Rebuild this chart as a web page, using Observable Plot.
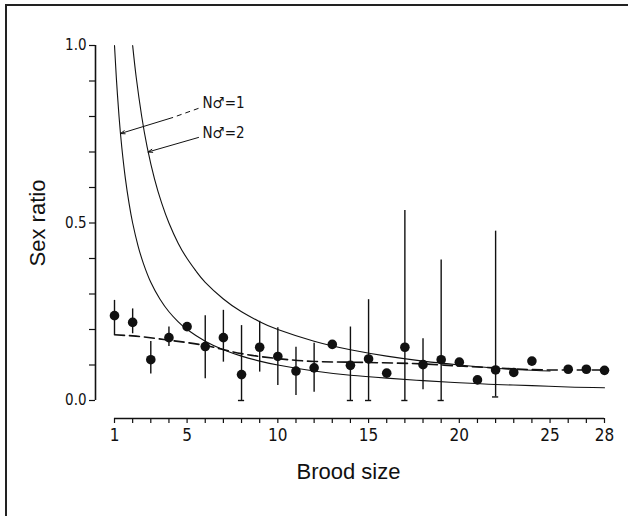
<!DOCTYPE html>
<html>
<head>
<meta charset="utf-8">
<script src="https://cdn.jsdelivr.net/npm/d3@7"></script>
<script src="https://cdn.jsdelivr.net/npm/@observablehq/plot@0.6"></script>
<style>
  html, body { margin: 0; padding: 0; background: #fff; }
  #wrap { position: relative; width: 628px; height: 516px; overflow: hidden; }
  #frame { position: absolute; left: 5px; top: 4px; width: 630px; height: 510px;
           border-left: 2px solid #222; border-top: 2px solid #222; border-bottom: 1px solid #aaa;
           pointer-events: none; }
</style>
</head>
<body>
<div id="wrap"><div id="frame"></div></div>
<script>
// ---- data ----
const broodSize = [1,2,3,4,5,6,7,8,9,10,11,12,13,14,15,16,17,18,19,20,21,22,23,24,26,27,28];
const sexRatio  = [0.239,0.22,0.115,0.177,0.208,0.152,0.177,0.073,0.15,0.124,0.083,0.092,0.158,0.099,0.117,0.077,0.15,0.101,0.115,0.108,0.058,0.086,0.079,0.111,0.088,0.088,0.085];
const errLow    = [0.185,0.188,0.075,0.152,null,0.061,0.108,0,0.08,0.042,0.014,0.023,null,0,0,null,0,0.03,0,null,null,0.01,null,null,null,null,null];
const errHigh   = [0.282,0.258,0.166,0.207,null,0.239,0.254,0.211,0.223,0.205,0.15,0.161,null,0.207,0.284,null,0.535,0.174,0.396,null,null,0.477,null,null,null,null,null];
const capped    = [8,14,15,17,19,22];

const n1X = [1,1.1,1.25,1.4,1.6,1.8,2,2.3,2.6,3,3.5,4,4.5,5,6,7,8,9,10,12,14,16,18,20,22,24,26,28];
const n1Y = [1.0,0.91,0.8,0.714,0.625,0.556,0.5,0.435,0.385,0.333,0.286,0.25,0.222,0.2,0.167,0.143,0.125,0.111,0.1,0.083,0.071,0.063,0.056,0.05,0.045,0.042,0.038,0.036];
const n2X = [2,2.2,2.5,2.8,3.2,3.6,4,4.5,5,5.5,6,7,8,9,10,12,14,16,18,20,22,24,25];
const n2Y = [1.0,0.909,0.8,0.714,0.625,0.556,0.5,0.444,0.4,0.364,0.333,0.286,0.25,0.222,0.2,0.167,0.143,0.125,0.111,0.1,0.091,0.085,0.083];
const fitX = [1,2,4,6,8,10,12,15,18,20,22,24,25,28];
const fitY = [0.185,0.182,0.17,0.155,0.132,0.118,0.11,0.107,0.103,0.097,0.092,0.087,0.086,0.086];

const xTicks = d3.range(1, 29);
const xTickLabels = [1,5,10,15,20,25,28];
const yTicks = [0,0.1,0.2,0.3,0.4,0.5,0.6,0.7,0.8,0.9,1.0];
const yTickLabels = [0,0.5,1.0];

const annotLabels = ["N\u2642=1", "N\u2642=2"];
const annotX = [5.85, 5.85];
const annotY = [0.837, 0.752];
// arrows (data coordinates)
const arrowFromX = [4.2, 5.63];
const arrowFromY = [0.797, 0.741];
const arrowToX = [1.33, 2.85];
const arrowToY = [0.752, 0.70];
const dashSegFromX = [5.63], dashSegFromY = [0.823];

// ---- tables ----
const pts = broodSize.map((n, i) => ({n, v: sexRatio[i], lo: errLow[i], hi: errHigh[i]}));
const bars = pts.filter(d => d.lo != null);
const caps = bars.filter(d => capped.includes(d.n));
const n1 = n1X.map((x, i) => ({x, y: n1Y[i]}));
const n2 = n2X.map((x, i) => ({x, y: n2Y[i]}));
const fit = fitX.map((x, i) => ({x, y: fitY[i]}));
const annots = annotLabels.map((t, i) => ({t, x: annotX[i], y: annotY[i]}));
const arrows = arrowFromX.map((x, i) => ({x1: x, y1: arrowFromY[i], x2: arrowToX[i], y2: arrowToY[i]}));
const dashSeg = [{x1: dashSegFromX[0], y1: dashSegFromY[0], x2: arrowFromX[0], y2: arrowFromY[0]}];

const narrow = "'Liberation Sans Narrow', 'DejaVu Sans Condensed', 'Liberation Sans', sans-serif";

const chart = Plot.plot({
  width: 628, height: 516,
  marginLeft: 114, marginRight: 24, marginTop: 45, marginBottom: 116,
  x: {domain: [1, 28]},
  y: {domain: [0, 1]},
  style: {background: "transparent", color: "#111", fontFamily: "'Liberation Sans', Arial, sans-serif"},
  marks: [
    // y axis
    Plot.ruleX([1], {y1: 0, y2: 1, dx: -19, stroke: "#111", strokeWidth: 1.6}),
    Plot.axisY({ticks: yTicks, tickSize: 6, dx: -19, tickPadding: 3, label: null,
      tickFormat: d => yTickLabels.some(v => Math.abs(v - d) < 1e-9) ? d3.format(".1f")(d) : "",
      fontSize: 15, fontFamily: narrow, stroke: "#111", strokeWidth: 1.2}),
    // x axis
    Plot.ruleY([0], {x1: 1, x2: 28, dy: 18, stroke: "#111", strokeWidth: 1.6}),
    Plot.axisX({ticks: xTicks, tickSize: 5, dy: 18, tickPadding: 5, label: null,
      tickFormat: d => xTickLabels.includes(d) ? String(d) : "",
      fontSize: 17, fontFamily: narrow, stroke: "#111", strokeWidth: 1.2}),
    // axis titles
    Plot.text(["Sex ratio"], {frameAnchor: "left", dx: -77, rotate: -90, textAnchor: "middle", fontSize: 22, fill: "#111"}),
    Plot.text(["Brood size"], {frameAnchor: "bottom", dx: -11, dy: 78, textAnchor: "middle", fontSize: 22, fill: "#111"}),
    // theoretical curves
    Plot.line(n1, {x: "x", y: "y", curve: "natural", stroke: "#111", strokeWidth: 1.1}),
    Plot.line(n2, {x: "x", y: "y", curve: "natural", stroke: "#111", strokeWidth: 1.1}),
    // fitted dashed
    Plot.line(fit, {x: "x", y: "y", curve: "monotone-x", stroke: "#111", strokeWidth: 1.6, strokeDasharray: "10,5"}),
    // error bars
    Plot.ruleX(bars, {x: "n", y1: "lo", y2: "hi", stroke: "#111", strokeWidth: 1.4}),
    Plot.ruleY(caps, {y: "lo", x1: d => d.n - 0.17, x2: d => d.n + 0.17, stroke: "#111", strokeWidth: 1.4}),
    // points
    Plot.dot(pts, {x: "n", y: "v", r: 4.8, fill: "#111", stroke: null}),
    // annotations
    Plot.link(dashSeg, {x1: "x1", y1: "y1", x2: "x2", y2: "y2", stroke: "#111", strokeWidth: 1, strokeDasharray: "5,4"}),
    Plot.arrow(arrows, {x1: "x1", y1: "y1", x2: "x2", y2: "y2", stroke: "#111", strokeWidth: 1, headLength: 7, headAngle: 40}),
    Plot.text(annots, {x: "x", y: "y", text: "t", textAnchor: "start", fontSize: 15, fontFamily: narrow, fill: "#111"})
  ]
});
document.getElementById("wrap").prepend(chart);
</script>
</body>
</html>
